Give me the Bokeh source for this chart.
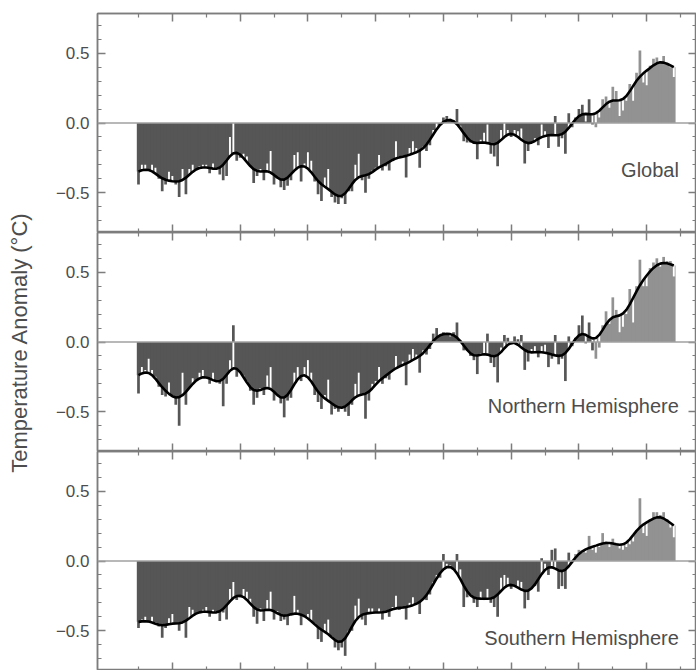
import numpy as np
from math import comb, pi
from bokeh.plotting import figure
from bokeh.models import LinearAxis, FixedTicker, Span, Range1d, Label
from bokeh.layouts import column, row
from bokeh.embed import file_html
from bokeh.resources import INLINE

years = list(range(1850, 2009))

global_anom = [
    -0.44, -0.30, -0.30, -0.33, -0.30, -0.32, -0.40, -0.49, -0.44, -0.35,
    -0.38, -0.44, -0.53, -0.33, -0.51, -0.33, -0.30, -0.33, -0.31, -0.30,
    -0.30, -0.36, -0.29, -0.32, -0.37, -0.41, -0.38, -0.10, 0.00, -0.27,
    -0.25, -0.22, -0.24, -0.31, -0.43, -0.38, -0.33, -0.41, -0.29, -0.20,
    -0.44, -0.39, -0.46, -0.48, -0.45, -0.41, -0.23, -0.21, -0.42, -0.29,
    -0.21, -0.27, -0.42, -0.51, -0.56, -0.39, -0.33, -0.53, -0.57, -0.58,
    -0.54, -0.58, -0.49, -0.49, -0.30, -0.22, -0.41, -0.50, -0.40, -0.34,
    -0.32, -0.23, -0.34, -0.31, -0.34, -0.27, -0.13, -0.24, -0.24, -0.39,
    -0.18, -0.13, -0.18, -0.32, -0.17, -0.20, -0.16, -0.05, 0.00, -0.01,
    0.04, 0.05, 0.03, 0.02, 0.10, -0.02, -0.13, -0.14, -0.14, -0.15,
    -0.26, -0.12, -0.07, -0.01, -0.22, -0.24, -0.31, -0.05, 0.00, -0.05,
    -0.10, -0.05, -0.06, -0.04, -0.29, -0.20, -0.14, -0.11, -0.16, -0.01,
    -0.06, -0.18, -0.08, 0.05, -0.17, -0.11, -0.22, 0.07, -0.03, 0.04,
    0.10, 0.13, 0.01, 0.17, -0.01, -0.03, 0.04, 0.17, 0.19, 0.11,
    0.26, 0.23, 0.05, 0.09, 0.16, 0.28, 0.16, 0.36, 0.52, 0.29,
    0.27, 0.41, 0.46, 0.47, 0.44, 0.48, 0.43, 0.40, 0.33,
]

nh_anom = [
    -0.37, -0.18, -0.20, -0.12, -0.20, -0.25, -0.32, -0.38, -0.39, -0.29,
    -0.38, -0.45, -0.60, -0.22, -0.45, -0.33, -0.26, -0.28, -0.22, -0.20,
    -0.25, -0.30, -0.22, -0.28, -0.30, -0.46, -0.30, -0.13, 0.12, -0.25,
    -0.22, -0.24, -0.28, -0.35, -0.45, -0.40, -0.33, -0.38, -0.24, -0.18,
    -0.42, -0.38, -0.44, -0.54, -0.42, -0.40, -0.22, -0.18, -0.28, -0.18,
    -0.13, -0.22, -0.38, -0.43, -0.48, -0.38, -0.27, -0.52, -0.48, -0.50,
    -0.47, -0.50, -0.53, -0.45, -0.30, -0.22, -0.38, -0.55, -0.42, -0.30,
    -0.28, -0.18, -0.30, -0.26, -0.27, -0.20, -0.10, -0.17, -0.14, -0.31,
    -0.09, -0.05, -0.09, -0.22, -0.06, -0.09, -0.05, 0.06, 0.10, 0.05,
    0.07, 0.05, 0.04, 0.07, 0.14, 0.01, -0.06, -0.06, -0.10, -0.13,
    -0.23, -0.08, 0.00, 0.06, -0.15, -0.18, -0.29, -0.04, 0.05, 0.03,
    -0.02, 0.04, 0.02, 0.05, -0.20, -0.14, -0.05, -0.03, -0.11, -0.03,
    -0.02, -0.18, -0.12, 0.05, -0.16, -0.12, -0.28, 0.04, -0.03, 0.03,
    0.12, 0.19, -0.01, 0.14, -0.06, -0.12, -0.04, 0.12, 0.22, 0.13,
    0.32, 0.23, 0.07, 0.11, 0.20, 0.38, 0.14, 0.40, 0.59, 0.40,
    0.40, 0.53, 0.57, 0.60, 0.54, 0.61, 0.58, 0.58, 0.47,
]

sh_anom = [
    -0.48, -0.42, -0.40, -0.44, -0.40, -0.44, -0.47, -0.55, -0.48, -0.41,
    -0.38, -0.45, -0.50, -0.44, -0.55, -0.33, -0.35, -0.38, -0.37, -0.35,
    -0.33, -0.40, -0.35, -0.36, -0.43, -0.37, -0.42, -0.20, -0.15, -0.28,
    -0.26, -0.20, -0.22, -0.27, -0.40, -0.45, -0.34, -0.43, -0.28, -0.22,
    -0.42, -0.36, -0.43, -0.42, -0.46, -0.38, -0.25, -0.35, -0.46, -0.40,
    -0.38, -0.35, -0.45, -0.56, -0.58, -0.45, -0.42, -0.54, -0.62, -0.64,
    -0.62, -0.68, -0.50, -0.50, -0.32, -0.27, -0.42, -0.46, -0.34, -0.34,
    -0.37, -0.34, -0.42, -0.37, -0.40, -0.33, -0.25, -0.35, -0.34, -0.42,
    -0.30, -0.26, -0.30, -0.38, -0.27, -0.28, -0.24, -0.15, -0.10, -0.12,
    0.05, -0.02, -0.03, -0.05, 0.05, -0.06, -0.33, -0.26, -0.24, -0.30,
    -0.33, -0.22, -0.28, -0.20, -0.30, -0.33, -0.40, -0.12, -0.10, -0.12,
    -0.20, -0.18, -0.14, -0.15, -0.34, -0.28, -0.20, -0.18, -0.22, 0.02,
    -0.02, -0.10, 0.08, 0.09, -0.20, -0.18, -0.20, 0.06, 0.00, 0.05,
    0.08, 0.06, 0.06, 0.18, 0.08, 0.06, 0.10, 0.20, 0.14, 0.10,
    0.16, 0.13, 0.09, 0.08, 0.10, 0.12, 0.14, 0.22, 0.45, 0.20,
    0.18, 0.30, 0.35, 0.35, 0.33, 0.35, 0.30, 0.24, 0.17,
]

panel_names = ["Global", "Northern Hemisphere", "Southern Hemisphere"]
light_from = [1985, 1985, 1978]
name_y = [-0.34, -0.46, -0.55]
y_title = "Temperature Anomaly (\u00b0C)"

y_major = [-0.5, 0.0, 0.5]
y_labels = {-0.5: "\u22120.5", 0.0: "0.0", 0.5: "0.5"}
y_minor = [round(-0.7 + 0.1 * i, 1) for i in range(15)]
x_major = list(range(1860, 2001, 20))
x_minor = list(range(1850, 2011, 20))

DARK = "#565656"
LIGHT = "#929292"
FRAME = "#7d7d7d"
TEXT = "#4d4d4d"
FONT = "Liberation Sans"

TITLE_W = 38
TOTAL_H = 670

# 21-point binomial filter
W = np.array([comb(20, k) for k in range(21)], dtype=float)


def smooth(v):
    v = np.asarray(v, dtype=float)
    n = len(v)
    out = np.empty(n)
    for i in range(n):
        lo, hi = max(0, i - 10), min(n, i + 11)
        ww = W[lo - (i - 10):hi - (i - 10)]
        out[i] = np.dot(ww, v[lo:hi]) / ww.sum()
    return out


x_range = Range1d(1837.9, 2014.7)


def style_axis(ax, major, minor, labels=None):
    ax.ticker = FixedTicker(ticks=major, minor_ticks=minor)
    ax.axis_line_color = FRAME
    ax.axis_line_width = 1.5
    ax.major_tick_line_color = FRAME
    ax.minor_tick_line_color = FRAME
    ax.major_tick_line_width = 1.5
    ax.minor_tick_line_width = 1.2
    ax.major_tick_in = 8
    ax.major_tick_out = 0
    ax.minor_tick_in = 4
    ax.minor_tick_out = 0
    if labels is None:
        ax.major_label_text_color = None
        ax.major_label_standoff = 0
    else:
        ax.major_label_overrides = labels
        ax.major_label_text_font = FONT
        ax.major_label_text_font_size = "17px"
        ax.major_label_text_color = TEXT
        ax.major_label_standoff = 8


def make_panel(vals, name, lf, ny, first):
    yr = np.array(years, dtype=float)
    v = np.array(vals, dtype=float)
    s = smooth(v)

    p = figure(frame_width=599, frame_height=219, x_range=x_range,
               y_range=Range1d(-0.785, 0.785), output_backend="svg",
               toolbar_location=None, x_axis_location=None,
               min_border_left=97 - TITLE_W, min_border_right=0,
               min_border_top=13 if first else 0, min_border_bottom=0,
               background_fill_color="white", border_fill_color="white")
    p.grid.visible = False
    p.outline_line_color = FRAME
    p.outline_line_width = 1.5

    # fill between zero and smoothed curve
    xf = np.concatenate([[yr[0] - 0.5], yr, [yr[-1] + 0.5]])
    sf = np.concatenate([[s[0]], s, [s[-1]]])
    cut = lf - 0.5
    s_cut = float(np.interp(cut, xf, sf))
    dm = xf < cut
    lm = xf > cut
    p.varea(x=np.append(xf[dm], cut), y1=0, y2=np.append(sf[dm], s_cut),
            fill_color=DARK)
    p.varea(x=np.insert(xf[lm], 0, cut), y1=0, y2=np.insert(sf[lm], 0, s_cut),
            fill_color=LIGHT)

    # annual bars
    cols = [LIGHT if y >= lf else DARK for y in years]
    p.vbar(x=yr, bottom=0, top=v, width=0.8, fill_color=cols,
           line_color=None)

    # white parts where the annual value lies between the curve and zero
    same = np.sign(v) == np.sign(s)
    inner = same & (np.abs(v) < np.abs(s))
    opp = ~same
    wb = np.where(inner, v, 0.0)
    wt = s
    m = inner | opp
    p.vbar(x=yr[m], bottom=np.minimum(wb, wt)[m], top=np.maximum(wb, wt)[m],
           width=0.55, fill_color="white", line_color=None)

    p.line(yr, s, line_color="black", line_width=2.6)

    p.add_layout(Span(location=0, dimension="width", line_color="#a0a0a0",
                      line_width=1.5))

    p.add_layout(Label(x=2009.5, y=ny, text=name, text_align="right",
                       text_baseline="middle", text_font=FONT,
                       text_font_size="20px", text_color=TEXT))

    style_axis(p.yaxis[0], y_major, y_minor, y_labels)
    right = LinearAxis()
    style_axis(right, y_major, y_minor)
    p.add_layout(right, "right")
    top = LinearAxis()
    style_axis(top, x_major, x_minor)
    p.add_layout(top, "above")
    bottom = LinearAxis()
    style_axis(bottom, x_major, x_minor)
    p.add_layout(bottom, "below")
    return p


series = [global_anom, nh_anom, sh_anom]
panels = [make_panel(series[i], panel_names[i], light_from[i], name_y[i],
                     i == 0) for i in range(3)]

# narrow strip holding the shared y-axis title
tfig = figure(width=TITLE_W, height=TOTAL_H, x_range=Range1d(0, TITLE_W),
              y_range=Range1d(0, TOTAL_H), output_backend="svg",
              toolbar_location=None, x_axis_location=None,
              y_axis_location=None, min_border=0,
              outline_line_color=None, background_fill_color="white",
              border_fill_color="white")
tfig.grid.visible = False
tfig.add_layout(Label(x=19, y=TOTAL_H - 342, text=y_title, angle=pi / 2,
                      text_align="center", text_baseline="middle",
                      text_font=FONT, text_font_size="22px",
                      text_color=TEXT))

layout = row(tfig, column(*panels, spacing=0), spacing=0)
open("out.html", "w").write(file_html(layout, INLINE))
